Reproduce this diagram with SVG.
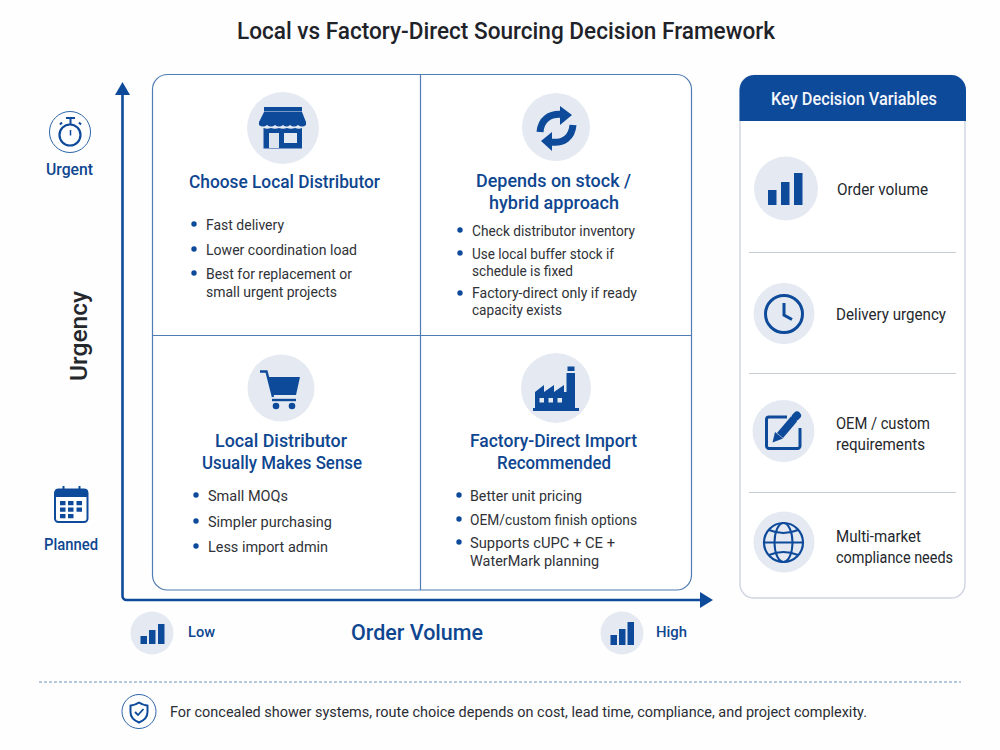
<svg xmlns="http://www.w3.org/2000/svg" width="1000" height="750" viewBox="0 0 1000 750">
<style>
text{font-family:Roboto,"Noto Sans","Liberation Sans",sans-serif}
.h{font-size:18.500px;font-weight:500;fill:#0e4690}
.b{font-size:14.500px;fill:#2f3237}
.v{font-size:16px;fill:#24272c}
.a{font-size:16px;font-weight:500;fill:#0e4690}
.d{fill:#0e4a9a}
.c{fill:#e5eaf2}
.s{fill:none;stroke:#0e4a9a}
.l{fill:none;stroke:#c6ccd4;stroke-width:1.2}
</style>
<rect width="1000" height="750" fill="#fefefe"/>
<text id="title" x="237" y="38.500" textLength="538" lengthAdjust="spacingAndGlyphs" style="font-size:23px;font-weight:500;fill:#1f2329">Local vs Factory-Direct Sourcing Decision Framework</text>

<g id="connectors">
<path class="s" stroke-width="2.600" d="M122.500 92V596a4 4 0 0 0 4 4H702"/>
<polygon class="d" points="122.500,82 130,95 115,95"/>
<polygon class="d" points="713,600 700,592 700,608"/>
</g>

<g id="matrix">
<rect x="152.500" y="74.500" width="539" height="515.500" rx="15" fill="#fff" stroke="#4f7cb2" stroke-width="1.200"/>
<path d="M420.500 75V590M153 335.500H691" fill="none" stroke="#4f7cb2" stroke-width="1.200"/>
</g>

<g id="quadrant-tl">
<circle class="c" cx="283" cy="128" r="36"/>
<rect class="d" x="264" y="107" width="38" height="4.500"/>
<path class="d" d="M264 112H302L306 122V125Q302 128 298 125Q294 128 290 125Q286.500 128 283 125Q279 128 275 125Q271 128 267 125Q263 128 259 125V122Z"/>
<path class="d" d="M263.500 128Q267 129.500 271 128Q275 129.500 279 128Q283 129.500 287 128Q291 129.500 295 128Q299 129.500 302 128V148.500H263.500Z"/>
<rect x="269" y="133" width="10" height="15" fill="#dfe5ee"/>
<rect x="284" y="133" width="13" height="10" fill="#e5eaf2"/>
<text class="h" x="189" y="188" textLength="191" lengthAdjust="spacingAndGlyphs">Choose Local Distributor</text>
<circle class="d" cx="194" cy="224" r="2.700"/><circle class="d" cx="194" cy="249" r="2.700"/><circle class="d" cx="194" cy="273" r="2.700"/>
<text class="b" x="206" y="230" textLength="78" lengthAdjust="spacingAndGlyphs">Fast delivery</text>
<text class="b" x="206" y="255" textLength="151" lengthAdjust="spacingAndGlyphs">Lower coordination load</text>
<text class="b" x="206" y="279" textLength="146" lengthAdjust="spacingAndGlyphs">Best for replacement or</text>
<text class="b" x="206" y="297" textLength="131" lengthAdjust="spacingAndGlyphs">small urgent projects</text>
</g>

<g id="quadrant-tr">
<circle class="c" cx="556" cy="127" r="34"/>
<path class="s" stroke-width="7" d="M540 132C541 120 549 113 563 114.500"/>
<polygon class="d" points="560,106 572,115 560,125"/>
<path class="s" stroke-width="7" d="M573 125C572 137 564 144 550 142"/>
<polygon class="d" points="552,132 541,141 552,151"/>
<text class="h" x="476" y="187" textLength="155" lengthAdjust="spacingAndGlyphs">Depends on stock /</text>
<text class="h" x="489" y="208.500" textLength="130" lengthAdjust="spacingAndGlyphs">hybrid approach</text>
<circle class="d" cx="460" cy="230" r="2.700"/><circle class="d" cx="460" cy="253" r="2.700"/><circle class="d" cx="460" cy="293" r="2.700"/>
<text class="b" x="472" y="236" textLength="163" lengthAdjust="spacingAndGlyphs">Check distributor inventory</text>
<text class="b" x="472" y="259" textLength="142" lengthAdjust="spacingAndGlyphs">Use local buffer stock if</text>
<text class="b" x="472" y="276" textLength="101" lengthAdjust="spacingAndGlyphs">schedule is fixed</text>
<text class="b" x="472" y="298" textLength="165" lengthAdjust="spacingAndGlyphs">Factory-direct only if ready</text>
<text class="b" x="472" y="315" textLength="90" lengthAdjust="spacingAndGlyphs">capacity exists</text>
</g>

<g id="quadrant-bl">
<circle class="c" cx="281" cy="388" r="33.500"/>
<path class="s" stroke-width="2.400" d="M260 371.500H266.500L273 397"/>
<polygon class="d" points="268,377 300,377 296,395 273,395"/>
<path class="s" stroke-width="2.400" d="M272 400H296"/>
<circle class="d" cx="276" cy="406" r="3.300"/><circle class="d" cx="292" cy="406" r="3.300"/>
<text class="h" x="215" y="447" textLength="132" lengthAdjust="spacingAndGlyphs">Local Distributor</text>
<text class="h" x="202" y="469" textLength="160" lengthAdjust="spacingAndGlyphs">Usually Makes Sense</text>
<circle class="d" cx="196" cy="495" r="2.700"/><circle class="d" cx="196" cy="521" r="2.700"/><circle class="d" cx="196" cy="546" r="2.700"/>
<text class="b" x="208" y="501" textLength="80" lengthAdjust="spacingAndGlyphs">Small MOQs</text>
<text class="b" x="208" y="527" textLength="124" lengthAdjust="spacingAndGlyphs">Simpler purchasing</text>
<text class="b" x="208" y="552" textLength="120" lengthAdjust="spacingAndGlyphs">Less import admin</text>
</g>

<g id="quadrant-br">
<circle class="c" cx="556" cy="388" r="35"/>
<path class="d" d="M535 408V392L544 385V392L554 385V392L564 385V392H566.500V373H575V408Z"/>
<rect class="d" x="567.500" y="366.500" width="7" height="4.500"/>
<rect class="d" x="533" y="408" width="46" height="3"/>
<rect x="539.500" y="398" width="4.500" height="4.500" fill="#e5eaf2"/><rect x="548.500" y="398" width="4.500" height="4.500" fill="#e5eaf2"/><rect x="557.500" y="398" width="4.500" height="4.500" fill="#e5eaf2"/>
<text class="h" x="470" y="447" textLength="167" lengthAdjust="spacingAndGlyphs">Factory-Direct Import</text>
<text class="h" x="497" y="469" textLength="114" lengthAdjust="spacingAndGlyphs">Recommended</text>
<circle class="d" cx="459" cy="495" r="2.700"/><circle class="d" cx="459" cy="519" r="2.700"/><circle class="d" cx="459" cy="542" r="2.700"/>
<text class="b" x="470" y="501" textLength="112" lengthAdjust="spacingAndGlyphs">Better unit pricing</text>
<text class="b" x="470" y="525" textLength="167" lengthAdjust="spacingAndGlyphs">OEM/custom finish options</text>
<text class="b" x="470" y="548" textLength="145" lengthAdjust="spacingAndGlyphs">Supports cUPC + CE +</text>
<text class="b" x="470" y="566" textLength="129" lengthAdjust="spacingAndGlyphs">WaterMark planning</text>
</g>

<g id="axis-y">
<circle cx="70" cy="132" r="20.500" fill="none" stroke="#2f66a8" stroke-width="1"/>
<circle class="s" cx="70" cy="135" r="10.500" stroke-width="2.200"/>
<path class="s" stroke-width="2" d="M66 118H75M70.500 118V124M60 124.500L62 122.500M79 122.500L81 124.500"/>
<path class="s" stroke-width="1.500" d="M70.500 130V135.500"/>
<text class="a" x="46" y="175" textLength="47" lengthAdjust="spacingAndGlyphs">Urgent</text>
<rect class="s" x="55" y="489.500" width="32.500" height="32.500" rx="3.500" stroke-width="2"/>
<path class="d" d="M58 489H85A3 3 0 0 1 88 492V497H55V492A3 3 0 0 1 58 489Z"/>
<path class="s" stroke-width="2" d="M63.500 486V493M79.500 486V493"/>
<path class="d" d="M60 501h5.500v4.200H60zM68 501h5.500v4.200H68zM76.500 501h5.500v4.200h-5.500zM60 507.500h5.500v4.200H60zM68 507.500h5.500v4.200H68zM76.500 507.500h5.500v4.200h-5.500zM60 514h5.500v4.200H60zM68 514h5.500v4.200H68z"/>
<text class="a" x="44" y="550" textLength="54" lengthAdjust="spacingAndGlyphs">Planned</text>
<text x="87" y="336" text-anchor="middle" transform="rotate(-90 87 336)" textLength="90" lengthAdjust="spacingAndGlyphs" style="font-size:23px;font-weight:500;fill:#24272c">Urgency</text>
</g>

<g id="axis-x">
<circle class="c" cx="152" cy="633" r="21.500"/>
<path class="d" d="M140.500 636h6.500v8h-6.500zM149 630h6.500v14H149zM158 624h6.500v20H158z"/>
<text class="a" x="188" y="637" textLength="27" lengthAdjust="spacingAndGlyphs" style="font-size:15px">Low</text>
<text x="351" y="640" textLength="132" lengthAdjust="spacingAndGlyphs" style="font-size:22px;font-weight:500;fill:#0e4690">Order Volume</text>
<circle class="c" cx="622" cy="633" r="21.500"/>
<path class="d" d="M610.500 635h6.500v10h-6.500zM619 629h6.500v16H619zM627.500 622h6.500v23h-6.500z"/>
<text class="a" x="656" y="637" textLength="31" lengthAdjust="spacingAndGlyphs" style="font-size:15px">High</text>
</g>

<g id="panel">
<rect x="740" y="75.500" width="225" height="522.500" rx="14" fill="#fff" stroke="#ced4e0" stroke-width="1.400"/>
<path class="d" d="M755 75H951A15 15 0 0 1 966 90V121H739.500V90A15 15 0 0 1 755 75Z"/>
<text x="771" y="105" textLength="166" lengthAdjust="spacingAndGlyphs" style="font-size:18px;font-weight:500;fill:#f4f7fb">Key Decision Variables</text>
<path class="l" d="M749 252.500H956M749 373.500H956M749 492.500H956"/>
</g>
<g id="var-order-volume">
<circle class="c" cx="786" cy="188.500" r="32"/>
<path class="d" d="M768 190h8.500v15H768zM781 182h8.500v23H781zM794 173h8.500v32H794z"/>
<text class="v" x="837" y="195" textLength="91" lengthAdjust="spacingAndGlyphs">Order volume</text>
</g>
<g id="var-delivery-urgency">
<circle class="c" cx="784" cy="313.500" r="30.500"/>
<circle class="s" cx="784" cy="314" r="18.500" stroke-width="3"/>
<path class="s" stroke-width="3" d="M784 303V315L792 319.500"/>
<text class="v" x="836" y="320" textLength="110" lengthAdjust="spacingAndGlyphs">Delivery urgency</text>
</g>
<g id="var-oem">
<circle class="c" cx="783.500" cy="431" r="31"/>
<path class="s" stroke-width="3" stroke-linejoin="round" d="M787 417H769A2.500 2.500 0 0 0 766.500 419.500V446A2.500 2.500 0 0 0 769 448.500H797.500A2.500 2.500 0 0 0 800 446V428"/>
<path class="s" stroke-width="8" d="M780 435.500L794 419"/>
<path class="s" stroke-width="8" stroke-linecap="round" d="M795.500 417L797 415.500"/>
<polygon class="d" points="772.500,442.500 775,432 783,438.500"/>
<text class="v" x="836" y="429" textLength="94" lengthAdjust="spacingAndGlyphs">OEM / custom</text>
<text class="v" x="836" y="450" textLength="89" lengthAdjust="spacingAndGlyphs">requirements</text>
</g>
<g id="var-market">
<circle class="c" cx="784" cy="542" r="30.500"/>
<circle class="s" cx="783.500" cy="542.500" r="19.500" stroke-width="2.200"/>
<ellipse class="s" cx="783.500" cy="542.500" rx="9" ry="19.500" stroke-width="2"/>
<path class="s" stroke-width="2" d="M769 530Q783.500 536 798 530M764 542.500H803M769 555Q783.500 549 798 555"/>
<text class="v" x="836" y="542" textLength="85" lengthAdjust="spacingAndGlyphs">Multi-market</text>
<text class="v" x="836" y="563" textLength="117" lengthAdjust="spacingAndGlyphs">compliance needs</text>
</g>

<g id="footer">
<path d="M39 682H961" fill="none" stroke="#6c92ba" stroke-width="1.200" stroke-dasharray="3 2"/>
<circle cx="139" cy="711.500" r="17" fill="none" stroke="#2f66a8" stroke-width="1"/>
<path class="s" stroke-width="2" stroke-linejoin="round" d="M139 702.500Q144 705.500 147.500 705.500V712Q147.500 719 139 722.500Q130.500 719 130.500 712V705.500Q134 705.500 139 702.500Z"/>
<path class="s" stroke-width="1.800" d="M135 712L138 715L143.500 709"/>
<text x="170" y="717" textLength="697" lengthAdjust="spacingAndGlyphs" style="font-size:15px;fill:#2a2d33">For concealed shower systems, route choice depends on cost, lead time, compliance, and project complexity.</text>
</g>
</svg>
